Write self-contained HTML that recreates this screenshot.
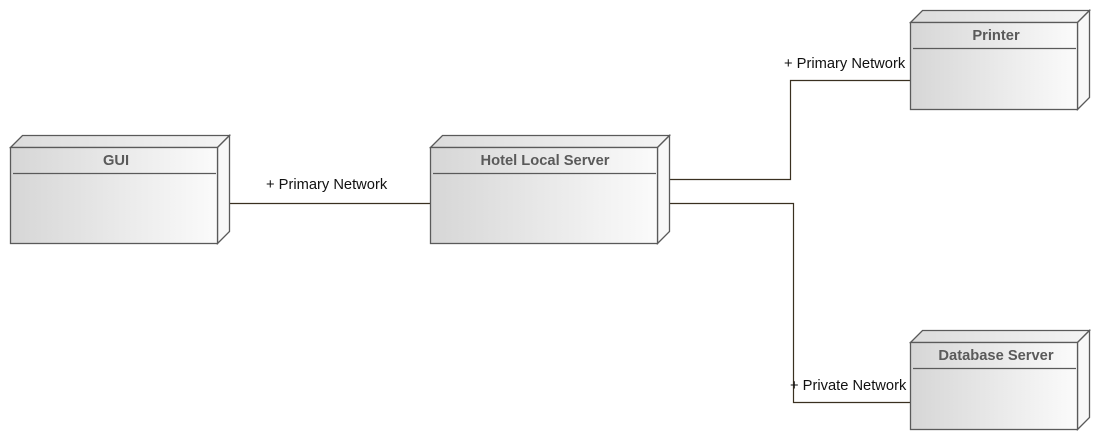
<!DOCTYPE html>
<html><head><meta charset="utf-8"><style>
html,body{margin:0;padding:0;background:#fff;}
svg{display:block;}
text{font-family:"Liberation Sans",Arial,sans-serif;}
.t{font-size:14.7px;font-weight:bold;fill:#5a5a5a;}
.l{font-size:14.7px;fill:#111;}
</style></head><body>
<svg width="1101" height="441" viewBox="0 0 1101 441" xmlns="http://www.w3.org/2000/svg">
<defs>
<linearGradient id="g" x1="0" y1="0" x2="1" y2="0">
<stop offset="0" stop-color="#d6d6d6"/><stop offset="1" stop-color="#fbfbfb"/>
</linearGradient>
<linearGradient id="gt" x1="0" y1="0" x2="1" y2="0">
<stop offset="0" stop-color="#dcdcdc"/><stop offset="1" stop-color="#f4f4f4"/>
</linearGradient>
</defs>
<g stroke="#3a3020" stroke-width="1.2" fill="none">
<path d="M230 203.5H430"/>
<path d="M670 179.5H790.5V80.5H910"/>
<path d="M670 203.5H793.5V402.5H910"/>
</g>
<g stroke="#5a5a5a" stroke-width="1.3">
<path d="M10.5 147.5L22.5 135.5H229.5L217.5 147.5Z" fill="url(#gt)"/>
<path d="M217.5 147.5L229.5 135.5V231.5L217.5 243.5Z" fill="#f8f8f8"/>
<rect x="10.5" y="147.5" width="207" height="96" fill="url(#g)"/>
<path d="M13 173.5H216" />
<path d="M430.5 147.5L442.5 135.5H669.5L657.5 147.5Z" fill="url(#gt)"/>
<path d="M657.5 147.5L669.5 135.5V231.5L657.5 243.5Z" fill="#f8f8f8"/>
<rect x="430.5" y="147.5" width="227" height="96" fill="url(#g)"/>
<path d="M433 173.5H656"/>
<path d="M910.5 22.5L922.5 10.5H1089.5L1077.5 22.5Z" fill="url(#gt)"/>
<path d="M1077.5 22.5L1089.5 10.5V97.5L1077.5 109.5Z" fill="#f8f8f8"/>
<rect x="910.5" y="22.5" width="167" height="87" fill="url(#g)"/>
<path d="M913 48.5H1076"/>
<path d="M910.5 342.5L922.5 330.5H1089.5L1077.5 342.5Z" fill="url(#gt)"/>
<path d="M1077.5 342.5L1089.5 330.5V417.5L1077.5 429.5Z" fill="#f8f8f8"/>
<rect x="910.5" y="342.5" width="167" height="87" fill="url(#g)"/>
<path d="M913 368.5H1076"/>
</g>
<text class="t" x="116" y="165" text-anchor="middle">GUI</text>
<text class="t" x="545" y="165" text-anchor="middle">Hotel Local Server</text>
<text class="t" x="996" y="40" text-anchor="middle">Printer</text>
<text class="t" x="996" y="360" text-anchor="middle">Database Server</text>
<text class="l" x="266" y="189">+ Primary Network</text>
<text class="l" x="784" y="68">+ Primary Network</text>
<text class="l" x="790" y="390">+ Private Network</text>
</svg>
</body></html>
